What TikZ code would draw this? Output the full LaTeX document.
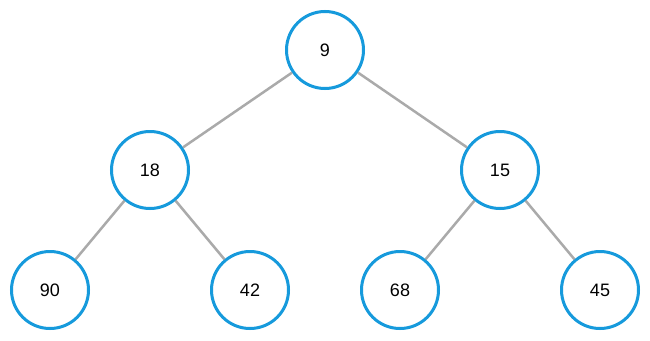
\documentclass[tikz,border=0pt]{standalone}
\usepackage{fontspec}
\setmainfont{Liberation Sans}
\definecolor{heapblue}{RGB}{22,154,220}
\definecolor{edgegray}{RGB}{170,170,170}
\newcommand{\keyfont}{\fontsize{18}{21}\selectfont}
\begin{document}
\begin{tikzpicture}[x=1pt,y=-1pt,
  key/.style={circle,draw=heapblue,line width=3pt,fill=white,minimum size=77pt,inner sep=0pt,font=\keyfont},
  link/.style={edgegray,line width=2.5pt}]
\useasboundingbox (0,0) rectangle (650,340);
\node[key] (n9) at (325,50) {9};
\node[key] (n18) at (150,170) {18};
\node[key] (n15) at (500,170) {15};
\node[key] (n90) at (50,290) {90};
\node[key] (n42) at (250,290) {42};
\node[key] (n68) at (400,290) {68};
\node[key] (n45) at (600,290) {45};
\foreach \from/\to in {n9/n18,n9/n15,n18/n90,n18/n42,n15/n68,n15/n45}
  \draw[link] (\from)--(\to);
\end{tikzpicture}
\end{document}
